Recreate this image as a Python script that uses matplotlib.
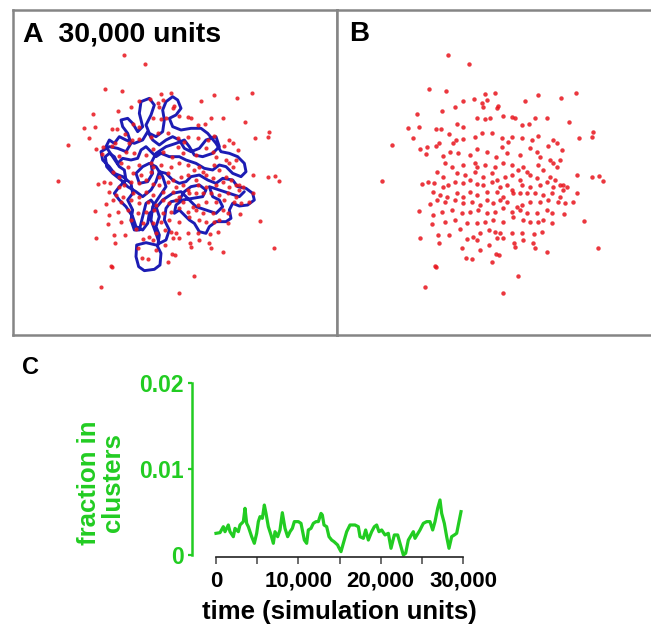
import numpy as np
import matplotlib.pyplot as plt

plt.rcParams['font.family'] = ['Liberation Sans', 'DejaVu Sans']
plt.rcParams['font.weight'] = 'bold'

# particle positions (same frame for A and B)
dots_x = [355, 418,
          298, 348, 466, 495, 625, 692, 737, 585,
          262, 337, 376, 400, 433, 455, 470, 500, 505, 460,
          234, 267, 318, 332, 356, 380, 400, 440, 465, 480, 518, 545, 555, 575, 598, 615, 650, 716,
          187, 248, 270, 290, 318, 328, 370, 378, 398, 435, 455, 485, 515, 535, 545, 575, 605, 625,
          655, 668, 680, 695, 748, 787, 790,
          287, 340, 360, 385, 420, 442, 470, 498, 515, 530, 570, 600, 620, 630, 660, 680, 690,
          345, 365, 398, 435, 440, 465, 495, 520, 545, 565, 580, 590, 625, 640, 668,
          320, 340, 380, 405, 435, 460, 485, 500, 525, 545, 570, 600, 620, 660, 675, 700, 710, 742,
          785, 808, 818,
          155, 275, 295, 312, 340, 355, 375, 400, 420, 440, 460, 485, 510, 530, 545, 575, 600, 630,
          650, 670, 690, 700,
          310, 330, 350, 380, 400, 420, 440, 470, 500, 520, 550, 570, 590, 615, 640, 665, 690, 740,
          268, 300, 320, 345, 375, 400, 425, 450, 470, 490, 510, 530, 560, 575, 600, 630, 655, 685,
          705, 728,
          310, 335, 365, 395, 420, 445, 470, 495, 520, 545, 570, 590, 620, 650, 665, 702,
          305, 345, 375, 410, 440, 465, 490, 520, 550, 580, 600, 625, 640, 665, 762,
          270, 325, 358, 390, 410, 428, 450, 478, 495, 510, 545, 575, 612, 636,
          328, 395, 440, 450, 476, 500, 520, 552, 580, 608, 615, 652, 805,
          408, 425, 485, 498, 508, 555,
          315, 318, 563, 285, 520]
dots_y = [165, 193,
          267, 272, 282, 280, 285, 295, 279, 302,
          343, 333, 322, 302, 297, 310, 300, 325, 318, 322,
          385, 382, 387, 386, 402, 372, 380, 355, 358, 355, 348, 352, 355, 375, 372, 355, 355, 367,
          434, 413, 448, 442, 437, 428, 428, 420, 418, 410, 400, 400, 415, 425, 410, 415, 420, 408,
          438, 420, 430, 450, 413, 410, 395,
          463, 468, 455, 460, 465, 448, 455, 470, 440, 460, 465, 445, 455, 470, 480, 500, 480,
          488, 500, 495, 490, 500, 495, 500, 490, 495, 510, 500, 515, 495, 510, 490,
          515, 530, 520, 525, 515, 530, 520, 540, 530, 525, 540, 525, 535, 530, 540, 555, 560, 525,
          530, 527, 543,
          543, 553, 545, 550, 560, 555, 545, 550, 540, 552, 555, 545, 560, 555, 570, 555, 560, 555,
          545, 560, 555, 570,
          575, 585, 590, 580, 590, 575, 585, 575, 575, 590, 580, 580, 578, 580, 585, 580, 590, 580,
          632, 612, 600, 605, 600, 610, 605, 615, 600, 610, 600, 605, 620, 615, 605, 605, 600, 605,
          608, 605,
          645, 635, 630, 640, 635, 630, 640, 635, 625, 635, 630, 640, 640, 630, 638, 643,
          672, 665, 660, 668, 670, 665, 660, 665, 650, 660, 665, 665, 660, 670, 664,
          714, 705, 705, 688, 718, 710, 700, 690, 695, 700, 700, 700, 702, 695,
          728, 745, 720, 750, 735, 715, 715, 730, 720, 730, 745, 757, 743,
          775, 776, 785, 762, 765, 740,
          797, 802, 828, 860, 880]

# trajectory in panel A (read against panel A's own frame)
walk_x = [470, 440, 412, 410, 418, 435, 465, 482, 485, 475,
          480, 470, 480, 470, 455, 440, 430, 420, 405, 395,
          400, 385, 400, 395, 370, 345, 330, 310, 305, 330,
          355, 380, 395, 385, 370, 365, 385, 400, 415, 430,
          420, 425, 450, 465, 455, 440, 450, 470, 490, 495,
          490, 500, 520, 535, 545, 530, 510, 520, 545, 575,
          605, 625, 650, 665, 690, 715, 735, 740, 725, 700,
          680, 660, 640, 615, 590, 560, 540, 510, 485, 470,
          455, 440, 425, 415, 395, 370, 355, 345, 330, 318,
          322, 340, 365, 385, 410, 430, 455, 470, 480, 500,
          520, 540, 560, 575, 600, 625, 650, 670, 700, 715,
          740, 760, 765, 745, 720, 700, 690, 695, 680, 650,
          630, 620, 600, 585, 570, 555, 540, 525, 530, 550,
          580, 610, 620, 600, 575, 555, 540, 515, 500, 495,
          510, 500, 480, 470, 455, 460, 480, 500, 490, 470,
          450, 430, 410, 420, 445, 460, 455, 470, 500, 530,
          555, 570, 585, 610, 640, 660, 650, 620, 600, 575,
          555, 540, 520, 500, 480, 460, 445, 430, 405, 380,
          360, 345, 330, 320, 340, 360, 375, 380, 360, 345,
          360, 380, 400, 410, 430, 445, 450, 465, 490, 520,
          545, 570, 590, 620, 650, 670, 660, 640, 630, 660,
          690, 720, 735]
walk_y = [735, 728, 735, 770, 800, 812, 808, 795, 760, 740,
          705, 680, 650, 620, 600, 610, 650, 690, 690, 660,
          630, 600, 580, 550, 530, 520, 500, 480, 455, 440,
          445, 455, 430, 400, 380, 360, 355, 370, 395, 380,
          340, 305, 295, 315, 345, 375, 400, 410, 395, 360,
          330, 305, 290, 300, 325, 345, 355, 380, 390, 385,
          385, 400, 430, 455, 460, 470, 490, 515, 530, 520,
          500, 495, 510, 505, 490, 480, 470, 470, 460, 470,
          455, 440, 450, 475, 480, 475, 490, 470, 460, 470,
          500, 520, 540, 560, 575, 590, 570, 545, 515, 520,
          540, 550, 545, 530, 525, 540, 550, 535, 540, 560,
          565, 580, 600, 615, 618, 610, 630, 655, 665, 665,
          680, 700, 695, 670, 660, 645, 630, 640, 615, 600,
          595, 590, 570, 555, 560, 575, 600, 605, 625, 660,
          690, 720, 730, 700, 660, 620, 590, 560, 530, 500,
          490, 500, 520, 550, 545, 520, 490, 460, 440, 430,
          420, 440, 465, 470, 460, 440, 410, 420, 445, 455,
          445, 420, 410, 420, 435, 420, 395, 420, 430, 420,
          410, 430, 420, 440, 470, 500, 510, 540, 560, 580,
          600, 620, 650, 680, 690, 670, 640, 630, 600, 580,
          575, 600, 620, 630, 640, 620, 600, 590, 560, 570,
          580, 590, 575]

# panel C: fraction in clusters over time
time = [0, 486, 890, 1093, 1497, 1700, 2105, 2308, 2712, 2915,
        3320, 3522, 3725, 3927, 4332, 4656, 4940, 5142, 5345, 5628,
        5871, 6074, 6357, 6681, 6964, 7166, 7490, 7773, 8057, 8381,
        8705, 8988, 9272, 9515, 10000, 10324, 10729, 11012, 11214, 11539,
        11822, 12146, 12429, 12753, 12915, 13118, 13442, 13725, 14049, 14333,
        14778, 14859, 15183, 15466, 15871, 16276, 16883, 17288, 17490, 17895,
        18178, 18502, 18907, 19231, 19514, 19798, 20122, 20527, 20931, 21256,
        21660, 22065, 22349, 22753, 23036, 23360, 23967, 24170, 24777, 25182,
        25587, 25992, 26316, 26600, 26924, 27207, 27409, 27733, 28017, 28300,
        28624, 28948, 29232, 29515, 29758]
fraction = [0.00252, 0.00260, 0.00329, 0.00271, 0.00349, 0.00271, 0.00213, 0.00310, 0.00271, 0.00349,
            0.00388, 0.00543, 0.00368, 0.00329, 0.00213, 0.00136, 0.00252, 0.00388, 0.00446, 0.00426,
            0.00581, 0.00484, 0.00329, 0.00233, 0.00136, 0.00271, 0.00213, 0.00291, 0.00492, 0.00310,
            0.00213, 0.00271, 0.00310, 0.00388, 0.00388, 0.00368, 0.00174, 0.00136, 0.00291, 0.00310,
            0.00368, 0.00388, 0.00388, 0.00484, 0.00465, 0.00349, 0.00329, 0.00213, 0.00174, 0.00155,
            0.00116, 0.00097, 0.00039, 0.00136, 0.00271, 0.00349, 0.00349, 0.00329, 0.00213, 0.00194,
            0.00291, 0.00174, 0.00271, 0.00329, 0.00349, 0.00271, 0.00291, 0.00233, 0.00252, 0.00078,
            0.00233, 0.00233, 0.00136, 0.0, 0.0002, 0.00174, 0.00271, 0.00194, 0.00291, 0.00368,
            0.00388, 0.00388, 0.00291, 0.00388, 0.00543, 0.00640, 0.00484, 0.00368, 0.00213, 0.00078,
            0.00213, 0.00233, 0.00252, 0.00388, 0.00504]

x_ticks = [0, 10000, 20000, 30000]
x_ticklabels = ['0', '10,000', '20,000', '30,000']
y_ticks = [0, 0.01, 0.02]
y_ticklabels = ['0', '0.01', '0.02']

green = '#22cc22'
grey = '#858585'
W, H = 651, 625

fig = plt.figure(figsize=(6.51, 6.25), dpi=100)

def box_axes(left_px):
    ax = fig.add_axes([left_px / W, 1 - 335 / H, 324 / W, 325 / H])
    ax.set_xlim(21, 993)
    ax.set_ylim(1005, 30)
    ax.set_xticks([])
    ax.set_yticks([])
    for s in ax.spines.values():
        s.set_color(grey)
        s.set_linewidth(1.8)
    return ax

ax_a = box_axes(13)
ax_a.plot(np.asarray(walk_x) - 20, walk_y, color='#1c1cb4', lw=2.1,
          solid_joinstyle='round', solid_capstyle='round')
ax_a.plot(dots_x, dots_y, 'o', color='#e8141c', ms=3.0, mew=0, alpha=0.85)

ax_b = box_axes(337)
ax_b.plot(dots_x, dots_y, 'o', color='#e8141c', ms=3.2, mew=0, alpha=0.85)

fig.text(23 / W, 1 - 21 / H, 'A  30,000 units', fontsize=20.5, fontweight='bold', va='top')
fig.text(349 / W, 1 - 21 / H, 'B', fontsize=20, fontweight='bold', va='top')
fig.text(22 / W, 1 - 356 / H, 'C', fontsize=17, fontweight='bold', va='top')

# panel C
ax_c = fig.add_axes([216 / W, 1 - 555 / H, 247 / W, 172 / H])
ax_c.plot(time, fraction, color=green, lw=2.3, clip_on=False)
ax_c.set_xlim(0, 30000)
ax_c.set_ylim(0, 0.02)
ax_c.spines['top'].set_visible(False)
ax_c.spines['right'].set_visible(False)
ax_c.spines['left'].set_position(('outward', 17))
ax_c.spines['left'].set_bounds(0, 0.02)
ax_c.spines['left'].set_color(green)
ax_c.spines['left'].set_linewidth(1.8)
ax_c.spines['bottom'].set_position(('outward', 1.5))
ax_c.spines['bottom'].set_linewidth(1.2)
ax_c.spines['bottom'].set_color('#222222')

ax_c.set_xticks(x_ticks)
ax_c.set_xticklabels(x_ticklabels, fontsize=16, fontweight='bold')
ax_c.set_xticks([5000, 15000, 25000], minor=True)
ax_c.tick_params(axis='x', which='both', length=5, width=1.1, color='#444444', pad=5)
ax_c.set_yticks(y_ticks)
ax_c.set_yticklabels(y_ticklabels, fontsize=16.5, fontweight='bold', color=green)
ax_c.tick_params(axis='y', length=3, width=1.6, color=green, pad=3)

ax_c.set_xlabel('time (simulation units)', fontsize=18.5, fontweight='bold', labelpad=6)
ax_c.text(-0.465, 0.42, 'fraction in\nclusters', transform=ax_c.transAxes,
          rotation=90, ha='center', va='center', multialignment='center',
          fontsize=18.5, fontweight='bold', color=green, linespacing=1.0)

plt.savefig('out.png', dpi=100)
